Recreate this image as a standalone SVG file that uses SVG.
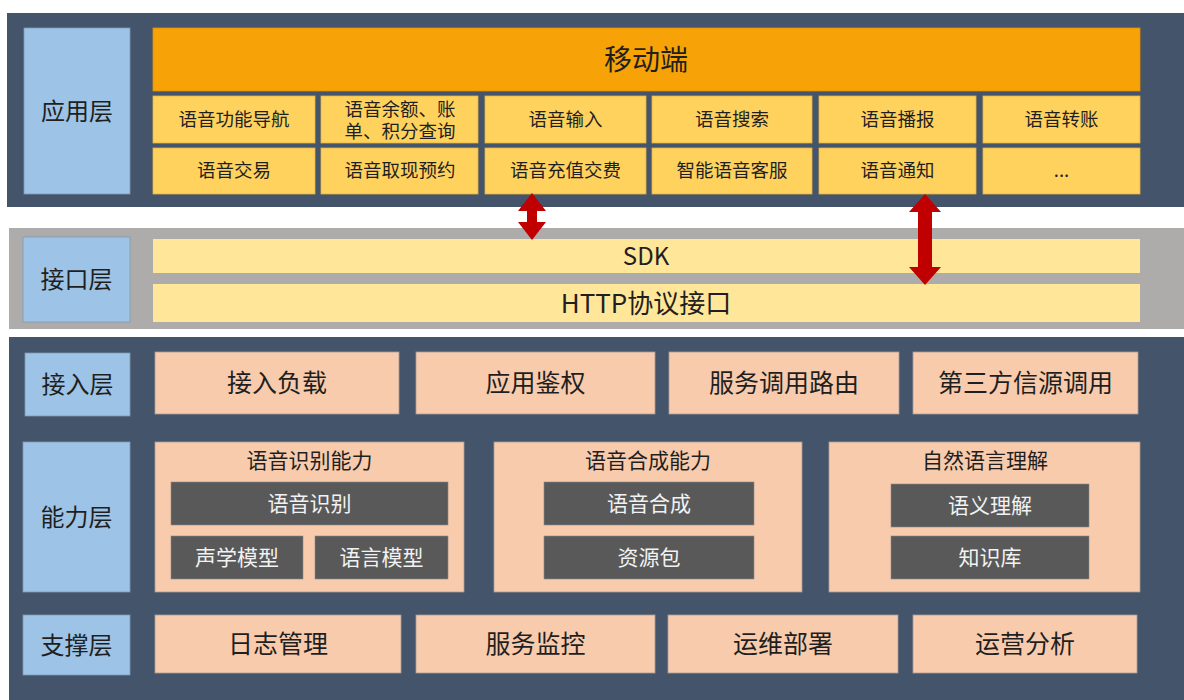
<svg xmlns="http://www.w3.org/2000/svg" width="1184" height="700" viewBox="0 0 1184 700">
<style>
text{font-family:"Noto Sans CJK SC","Microsoft YaHei","Liberation Sans",sans-serif;text-anchor:middle;dominant-baseline:central;fill:#1f1f1f}
.panel{fill:#44546A}
.gray{fill:#AEABAB}
.lbl{fill:#9DC3E6;stroke:#7F98B4;stroke-width:0.8}
.lt{font-size:24px}
.orange{fill:#F7A307;stroke:#E09000;stroke-width:0.8}
.cell{fill:#FFD25E;stroke:#E6B23F;stroke-width:0.8}
.ct{font-size:18.5px}
.bar{fill:#FFE699}
.peach{fill:#F8CBAD;stroke:#A89C95;stroke-width:0.8}
.bt{font-size:25px}
.gt{font-size:21px}
.dark{fill:#595959;stroke:#8A8A8A;stroke-width:0.6}
.dt{font-size:21px;fill:#F2F2F2}
.arrow{fill:#C00000}
</style>
<rect width="1184" height="700" fill="#FFFFFF"/>

<!-- Application layer -->
<g id="app-layer">
<rect class="panel" x="7" y="13" width="1177" height="194"/>
<g id="app-label"><rect class="lbl" x="24" y="28" width="106" height="166"/><text class="lt" x="77" y="109">应用层</text></g>
<g id="mobile"><rect class="orange" x="153" y="28" width="987" height="63"/><text x="646" y="58" font-size="28">移动端</text></g>
<g id="c11"><rect class="cell" x="153" y="96" width="162" height="47"/><text class="ct" x="234" y="118">语音功能导航</text></g>
<g id="c12"><rect class="cell" x="321" y="96" width="157" height="47"/><text class="ct" x="400" y="107.5">语音余额、账<tspan x="400" dy="22">单、积分查询</tspan></text></g>
<g id="c13"><rect class="cell" x="485" y="96" width="161" height="47"/><text class="ct" x="565.5" y="118">语音输入</text></g>
<g id="c14"><rect class="cell" x="652" y="96" width="160" height="47"/><text class="ct" x="732" y="118">语音搜索</text></g>
<g id="c15"><rect class="cell" x="819" y="96" width="157" height="47"/><text class="ct" x="897.5" y="118">语音播报</text></g>
<g id="c16"><rect class="cell" x="983" y="96" width="157" height="47"/><text class="ct" x="1061.5" y="118">语音转账</text></g>
<g id="c21"><rect class="cell" x="153" y="148" width="162" height="46"/><text class="ct" x="234" y="169">语音交易</text></g>
<g id="c22"><rect class="cell" x="321" y="148" width="157" height="46"/><text class="ct" x="400" y="169">语音取现预约</text></g>
<g id="c23"><rect class="cell" x="485" y="148" width="161" height="46"/><text class="ct" x="565.5" y="169">语音充值交费</text></g>
<g id="c24"><rect class="cell" x="652" y="148" width="160" height="46"/><text class="ct" x="732" y="169">智能语音客服</text></g>
<g id="c25"><rect class="cell" x="819" y="148" width="157" height="46"/><text class="ct" x="897.5" y="169">语音通知</text></g>
<g id="c26"><rect class="cell" x="983" y="148" width="157" height="46"/><text class="ct" x="1061.5" y="169">...</text></g>
</g>

<!-- Interface layer -->
<g id="if-layer">
<rect class="gray" x="9" y="228" width="1175" height="101"/>
<g id="if-label"><rect class="lbl" x="23" y="237" width="107" height="85"/><text class="lt" x="76.5" y="277">接口层</text></g>
<g id="sdk"><rect class="bar" x="153" y="239" width="987" height="34"/><text x="646" y="254" font-size="24">SDK</text></g>
<g id="http"><rect class="bar" x="153" y="284" width="987" height="38"/><text x="646" y="301" font-size="26">HTTP协议接口</text></g>
</g>

<!-- Lower panel -->
<rect class="panel" x="9" y="337" width="1175" height="363"/>

<g id="access-layer">
<g id="acc-label"><rect class="lbl" x="25" y="353" width="105" height="63"/><text class="lt" x="77.5" y="382">接入层</text></g>
<g id="acc1"><rect class="peach" x="155" y="352" width="244" height="62"/><text class="bt" x="277" y="381">接入负载</text></g>
<g id="acc2"><rect class="peach" x="416" y="352" width="239" height="62"/><text class="bt" x="535.5" y="381">应用鉴权</text></g>
<g id="acc3"><rect class="peach" x="669" y="352" width="230" height="62"/><text class="bt" x="784" y="381">服务调用路由</text></g>
<g id="acc4"><rect class="peach" x="913" y="352" width="225" height="62"/><text class="bt" x="1025.5" y="381">第三方信源调用</text></g>
</g>

<g id="ability-layer">
<g id="ab-label"><rect class="lbl" x="23" y="442" width="107" height="150"/><text class="lt" x="76.5" y="515">能力层</text></g>
<g id="asr">
<rect class="peach" x="155" y="442" width="309" height="150"/><text class="gt" x="309.5" y="459">语音识别能力</text>
<g id="asr-core"><rect class="dark" x="171" y="482" width="277" height="43"/><text class="dt" x="309.5" y="501.5">语音识别</text></g>
<g id="am"><rect class="dark" x="171" y="536" width="132" height="43"/><text class="dt" x="237" y="555.5">声学模型</text></g>
<g id="lm"><rect class="dark" x="315" y="536" width="133" height="43"/><text class="dt" x="381.5" y="555.5">语言模型</text></g>
</g>
<g id="tts">
<rect class="peach" x="494" y="442" width="308" height="150"/><text class="gt" x="648" y="459">语音合成能力</text>
<g id="tts-core"><rect class="dark" x="544" y="482" width="210" height="43"/><text class="dt" x="649" y="501.5">语音合成</text></g>
<g id="res"><rect class="dark" x="544" y="536" width="210" height="43"/><text class="dt" x="649" y="555.5">资源包</text></g>
</g>
<g id="nlu">
<rect class="peach" x="829" y="442" width="311" height="150"/><text class="gt" x="985" y="459">自然语言理解</text>
<g id="sem"><rect class="dark" x="891" y="484" width="198" height="43"/><text class="dt" x="990" y="503.5">语义理解</text></g>
<g id="kb"><rect class="dark" x="891" y="536" width="198" height="43"/><text class="dt" x="990" y="555.5">知识库</text></g>
</g>
</g>

<g id="support-layer">
<g id="sup-label"><rect class="lbl" x="23" y="615" width="107" height="60"/><text class="lt" x="76.5" y="643">支撑层</text></g>
<g id="sup1"><rect class="peach" x="155" y="615" width="246" height="58"/><text class="bt" x="278" y="642">日志管理</text></g>
<g id="sup2"><rect class="peach" x="416" y="615" width="239" height="58"/><text class="bt" x="535.5" y="642">服务监控</text></g>
<g id="sup3"><rect class="peach" x="668" y="615" width="230" height="58"/><text class="bt" x="783" y="642">运维部署</text></g>
<g id="sup4"><rect class="peach" x="913" y="615" width="224" height="58"/><text class="bt" x="1025" y="642">运营分析</text></g>
</g>

<!-- Connectors -->
<g id="connectors">
<polygon class="arrow" points="532,193 546,211 537,211 537,222 546,222 532,240 518,222 527,222 527,211 518,211"/>
<polygon class="arrow" points="925,194 941,212 932,212 932,267 941,267 925,285 909,267 918,267 918,212 909,212"/>
</g>
</svg>
